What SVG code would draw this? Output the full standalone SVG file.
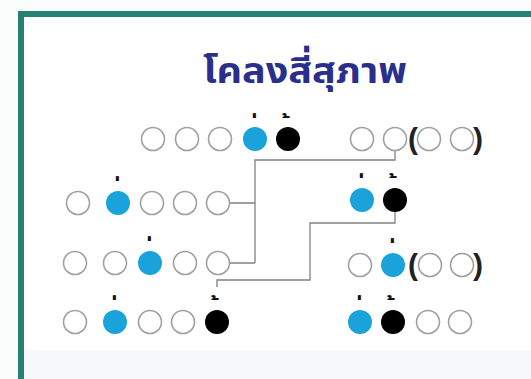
<svg xmlns="http://www.w3.org/2000/svg" width="531" height="379" viewBox="0 0 531 379">
<style>
.o{fill:#fff;stroke:#a0a0a0;stroke-width:1.6}
.b{fill:#1aa3da;stroke:none}
.k{fill:#000;stroke:none}
.m{font-family:"Noto Sans Thai","Noto Sans","DejaVu Sans",sans-serif;font-size:22px;font-weight:bold;fill:#111;text-anchor:middle}
.p{font-family:"Liberation Sans",Arial,sans-serif;font-size:30px;font-weight:bold;fill:#222;text-anchor:middle}
.c{fill:none;stroke:#808080;stroke-width:1.3}
</style>
<rect width="531" height="379" fill="#fbfdfd"/>
<rect x="21" y="14" width="600" height="500" fill="#fff" stroke="#24806f" stroke-width="6"/>
<rect x="24" y="350" width="507" height="29" fill="#f5f9fb"/>
<text x="305" y="83" font-family="'Noto Sans Thai','Noto Sans',sans-serif" font-size="36" font-weight="bold" fill="#2b2f8c" text-anchor="middle" textLength="204" lengthAdjust="spacingAndGlyphs">โคลงสี่สุภาพ</text>
<g id="connectors">
<path class="c" d="M229 203H255M230 263H255M255 263V160H395V150"/>
<path class="c" d="M395 211V223H310V280H217V287"/>
</g>
<g id="row1-left">
<circle class="o" cx="153" cy="139" r="11.5"/><circle class="o" cx="187" cy="139" r="11.5"/><circle class="o" cx="220" cy="139" r="11.5"/><circle class="b" cx="255" cy="139" r="12"/><circle class="k" cx="288" cy="139" r="12"/>
<text class="m" x="255" y="131">&#160;่</text><text class="m" x="288" y="131">&#160;้</text>
</g>
<g id="row1-right">
<circle class="o" cx="362" cy="139" r="11.5"/><circle class="o" cx="395" cy="139" r="11.5"/><text class="p" x="413" y="149">(</text><circle class="o" cx="429" cy="139" r="11.5"/><circle class="o" cx="462" cy="139" r="11.5"/><text class="p" x="478" y="149">)</text>
</g>
<g id="row2-left">
<circle class="o" cx="78" cy="203" r="11.5"/><circle class="b" cx="118" cy="203" r="12"/><circle class="o" cx="152" cy="203" r="11.5"/><circle class="o" cx="185" cy="203" r="11.5"/><circle class="o" cx="218" cy="203" r="11.5"/>
<text class="m" x="118" y="194">&#160;่</text>
</g>
<g id="row2-right">
<circle class="b" cx="362" cy="200" r="12"/><circle class="k" cx="395" cy="200" r="12"/>
<text class="m" x="362" y="191">&#160;่</text><text class="m" x="395" y="191">&#160;้</text>
</g>
<g id="row3-left">
<circle class="o" cx="75" cy="263" r="11.5"/><circle class="o" cx="115" cy="263" r="11.5"/><circle class="b" cx="150" cy="263" r="12"/><circle class="o" cx="185" cy="263" r="11.5"/><circle class="o" cx="218" cy="263" r="11.5"/>
<text class="m" x="150" y="254">&#160;่</text>
</g>
<g id="row3-right">
<circle class="o" cx="360" cy="265" r="11.5"/><circle class="b" cx="393" cy="265" r="12"/><text class="p" x="413" y="275">(</text><circle class="o" cx="430" cy="265" r="11.5"/><circle class="o" cx="462" cy="265" r="11.5"/><text class="p" x="478" y="275">)</text>
<text class="m" x="393" y="256">&#160;่</text>
</g>
<g id="row4-left">
<circle class="o" cx="75" cy="322" r="11.5"/><circle class="b" cx="115" cy="322" r="12"/><circle class="o" cx="150" cy="322" r="11.5"/><circle class="o" cx="183" cy="322" r="11.5"/><circle class="k" cx="217" cy="322" r="12"/>
<text class="m" x="115" y="313">&#160;่</text><text class="m" x="217" y="313">&#160;้</text>
</g>
<g id="row4-right">
<circle class="b" cx="360" cy="322" r="12"/><circle class="k" cx="393" cy="322" r="12"/><circle class="o" cx="428" cy="322" r="11.5"/><circle class="o" cx="460" cy="322" r="11.5"/>
<text class="m" x="360" y="313">&#160;่</text><text class="m" x="393" y="313">&#160;้</text>
</g>
</svg>
